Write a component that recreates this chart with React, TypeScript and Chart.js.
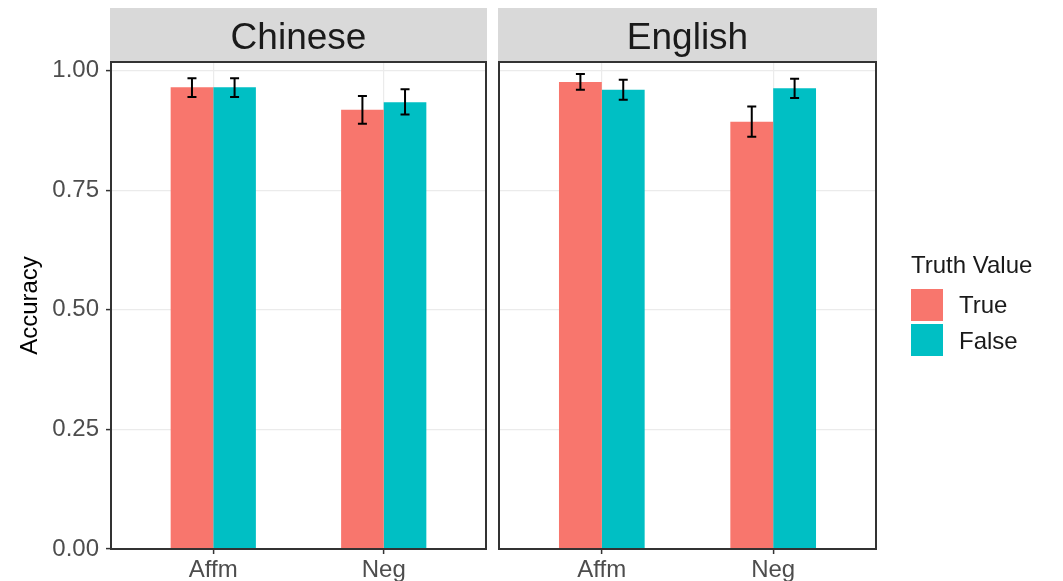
import React, { useEffect, useRef } from "react";
import { Chart, registerables } from "chart.js";

Chart.register(...registerables);

const categories = ["Affm", "Neg"];
const languages = ["Chinese", "English"];
const seriesNames = ["True", "False"];
const seriesColors = ["#F8766D", "#00BFC4"];
const yTicks = [0, 0.25, 0.5, 0.75, 1.0];

const chineseTrue = [0.965, 0.918];
const chineseTrueLow = [0.945, 0.889];
const chineseTrueHigh = [0.984, 0.947];
const chineseFalse = [0.965, 0.934];
const chineseFalseLow = [0.945, 0.908];
const chineseFalseHigh = [0.984, 0.961];

const englishTrue = [0.976, 0.893];
const englishTrueLow = [0.96, 0.862];
const englishTrueHigh = [0.993, 0.925];
const englishFalse = [0.96, 0.963];
const englishFalseLow = [0.939, 0.943];
const englishFalseHigh = [0.981, 0.983];

const FONT = "'Liberation Sans', Arial, Helvetica, sans-serif";
const W = 1063;
const H = 581;

const panelPlugin = {
  id: "panel",
  afterDatasetsDraw(chart: any, _args: any, opts: any) {
    const ctx = chart.ctx;
    const y = chart.scales.y;
    ctx.save();
    ctx.strokeStyle = "#000";
    ctx.lineWidth = 2;
    (opts.low || []).forEach((lows: number[], di: number) => {
      const meta = chart.getDatasetMeta(di);
      lows.forEach((lo: number, i: number) => {
        const hi = opts.high[di][i];
        const x = meta.data[i].x;
        const y1 = y.getPixelForValue(lo);
        const y2 = y.getPixelForValue(hi);
        ctx.beginPath();
        ctx.moveTo(x, y1);
        ctx.lineTo(x, y2);
        ctx.moveTo(x - 4.5, y1);
        ctx.lineTo(x + 4.5, y1);
        ctx.moveTo(x - 4.5, y2);
        ctx.lineTo(x + 4.5, y2);
        ctx.stroke();
      });
    });
    ctx.restore();
  },
  afterDraw(chart: any, _args: any, opts: any) {
    const ctx = chart.ctx;
    const a = chart.chartArea;
    ctx.save();
    // strip
    ctx.fillStyle = "#d9d9d9";
    ctx.fillRect(a.left - 1, 8, a.right - a.left + 2, a.top - 8);
    ctx.fillStyle = "#1a1a1a";
    ctx.font = `37px ${FONT}`;
    ctx.textAlign = "center";
    ctx.textBaseline = "alphabetic";
    ctx.fillText(opts.title, (a.left + a.right) / 2, 49);
    // border
    ctx.strokeStyle = "#333";
    ctx.lineWidth = 2;
    ctx.strokeRect(a.left, a.top, a.right - a.left, a.bottom - a.top);
    // legend
    if (opts.legend) {
      const ox = opts.legendX;
      ctx.textAlign = "left";
      ctx.fillStyle = "#1a1a1a";
      ctx.font = `24px ${FONT}`;
      ctx.fillText("Truth Value", ox, 273);
      const keyY = [289, 324];
      const baseY = [313, 349];
      seriesNames.forEach((n, i) => {
        ctx.fillStyle = seriesColors[i];
        ctx.fillRect(ox, keyY[i], 32, 32);
        ctx.fillStyle = "#1a1a1a";
        ctx.fillText(n, ox + 48, baseY[i]);
      });
    }
    ctx.restore();
  },
};

function makeConfig(
  trueVals: number[],
  falseVals: number[],
  low: number[][],
  high: number[][],
  title: string,
  showY: boolean,
  padding: any,
  legend: boolean
): any {
  return {
    type: "bar",
    data: {
      datasets: [
        {
          label: seriesNames[0],
          data: trueVals.map((v, i) => ({ x: i + 1, y: v })),
          backgroundColor: seriesColors[0],
          borderWidth: 0,
        },
        {
          label: seriesNames[1],
          data: falseVals.map((v, i) => ({ x: i + 1, y: v })),
          backgroundColor: seriesColors[1],
          borderWidth: 0,
        },
      ],
    },
    options: {
      responsive: false,
      animation: false,
      devicePixelRatio: 1,
      layout: { padding },
      datasets: { bar: { categoryPercentage: 0.5, barPercentage: 1.0 } },
      plugins: {
        legend: { display: false },
        tooltip: { enabled: false },
        panel: { title, low, high, legend, legendX: 421 },
      },
      scales: {
        x: {
          type: "linear",
          min: 0.4,
          max: 2.6,
          offset: false,
          afterBuildTicks: (s: any) => {
            s.ticks = categories.map((_, i) => ({ value: i + 1 }));
          },
          afterFit: (s: any) => {
            s.height = 32;
          },
          ticks: {
            callback: (v: number) => categories[Math.round(v) - 1],
            font: { size: 24, family: FONT },
            color: "#4d4d4d",
            padding: 2,
            maxRotation: 0,
            autoSkip: false,
          },
          grid: {
            offset: false,
            color: "#ebebeb",
            lineWidth: 1.2,
            tickColor: "#333",
            tickLength: 5,
            tickWidth: 1.5,
          },
          border: { display: false },
        },
        y: {
          min: 0,
          max: 1.018,
          afterBuildTicks: (s: any) => {
            s.ticks = yTicks.map((v) => ({ value: v }));
          },
          afterFit: (s: any) => {
            s.width = showY ? 111 : 0;
          },
          ticks: {
            display: showY,
            callback: (v: number) => v.toFixed(2),
            font: { size: 24, family: FONT },
            color: "#4d4d4d",
            padding: 7,
          },
          grid: {
            color: "#ebebeb",
            lineWidth: 1.2,
            tickColor: "#333",
            tickLength: 5,
            tickWidth: 1.5,
            drawTicks: showY,
          },
          border: { display: false },
          title: {
            display: showY,
            text: "Accuracy",
            font: { size: 24, family: FONT },
            color: "#000",
            padding: { top: 16, bottom: 0 },
          },
        },
      },
    },
    plugins: [panelPlugin],
  };
}

export default function App() {
  const ref1 = useRef<HTMLCanvasElement>(null);
  const ref2 = useRef<HTMLCanvasElement>(null);

  useEffect(() => {
    Chart.defaults.font.family = FONT;
    const c1 = new Chart(
      ref1.current as HTMLCanvasElement,
      makeConfig(
        chineseTrue,
        chineseFalse,
        [chineseTrueLow, chineseFalseLow],
        [chineseTrueHigh, chineseFalseHigh],
        languages[0],
        true,
        { top: 62, left: 0, right: 9, bottom: 0 },
        false
      )
    );
    const c2 = new Chart(
      ref2.current as HTMLCanvasElement,
      makeConfig(
        englishTrue,
        englishFalse,
        [englishTrueLow, englishFalseLow],
        [englishTrueHigh, englishFalseHigh],
        languages[1],
        false,
        { top: 62, left: 9, right: 187, bottom: 0 },
        true
      )
    );
    return () => {
      c1.destroy();
      c2.destroy();
    };
  }, []);

  return (
    <div
      style={{
        position: "absolute",
        left: 0,
        top: 0,
        width: W,
        height: H,
        background: "#fff",
        overflow: "hidden",
      }}
    >
      <canvas
        ref={ref1}
        width={495}
        height={H}
        style={{ position: "absolute", left: 0, top: 0, width: 495, height: H }}
      />
      <canvas
        ref={ref2}
        width={573}
        height={H}
        style={{ position: "absolute", left: 490, top: 0, width: 573, height: H }}
      />
    </div>
  );
}
